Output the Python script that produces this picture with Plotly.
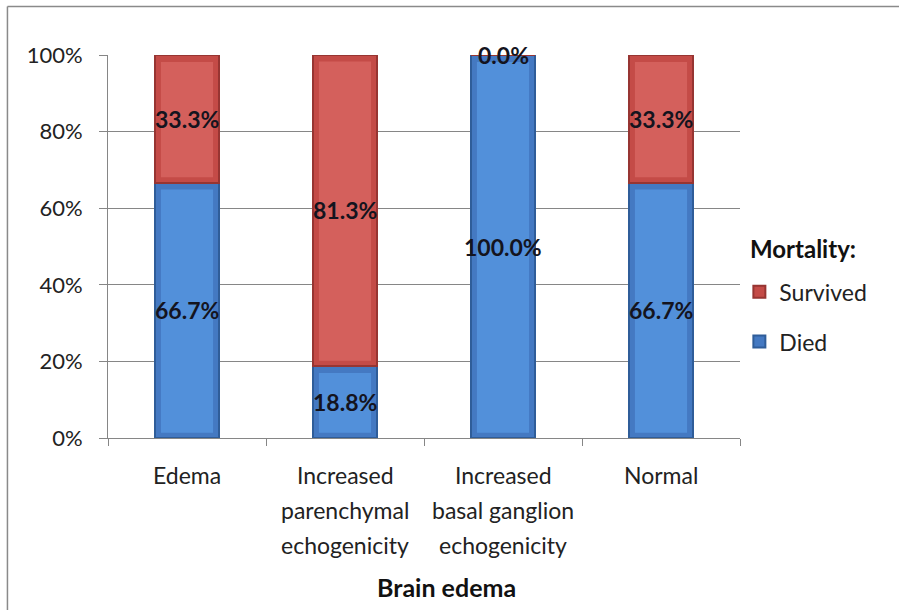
import plotly.graph_objects as go

# Brain edema findings vs. mortality (percent of each group)
categories = ["Edema", "Increased parenchymal echogenicity",
              "Increased basal ganglion echogenicity", "Normal"]
tick_labels = [["Edema"], ["Increased", "parenchymal", "echogenicity"],
               ["Increased", "basal ganglion", "echogenicity"], ["Normal"]]
died = [66.7, 18.8, 100.0, 66.7]
survived = [33.3, 81.3, 0.0, 33.3]
y_ticks = [0, 20, 40, 60, 80, 100]
y_tick_labels = ["0%", "20%", "40%", "60%", "80%", "100%"]

FONT = "Lato, 'Open Sans', sans-serif"
BAR_W = 0.4
# (edge, body, highlight) tones for the bevelled look
RED = ("#973532", "#C44B47", "#D4605C")
BLUE = ("#2F5D99", "#4479C2", "#5290DA")

fig = go.Figure()
fig.add_trace(go.Bar(
    x=categories, y=died, name="Died", legendgroup="died", legendrank=2,
    marker=dict(color=BLUE[1], line=dict(color=BLUE[0], width=2)),
    width=BAR_W, hoverinfo="skip"))
fig.add_trace(go.Bar(
    x=categories, y=survived, name="Survived", legendgroup="survived", legendrank=1,
    marker=dict(color=RED[1], line=dict(color=RED[0], width=2)),
    width=BAR_W, hoverinfo="skip"))

# Lighter inner panel gives each stacked segment a bevelled face
shapes = []
for i, (d, s) in enumerate(zip(died, survived)):
    for base, val, tones in ((0, d, BLUE), (d, s, RED)):
        if val <= 0:
            continue
        top = base + val
        shapes.append(dict(type="rect", xref="x", yref="y", layer="above",
                           x0=i - BAR_W / 2 + 0.035, x1=i + BAR_W / 2 - 0.035,
                           y0=base + 1.4, y1=top - 1.8,
                           fillcolor=tones[2], line=dict(width=0)))

# Frame around the chart (top and left edges are in view)
shapes.append(dict(type="line", xref="paper", yref="paper",
                   x0=-0.1591, x1=1.5, y0=1.1266, y1=1.1266,
                   line=dict(color="#8a8a8a", width=1.5)))
shapes.append(dict(type="line", xref="paper", yref="paper",
                   x0=-0.1591, x1=-0.1591, y0=-1.0, y1=1.1266,
                   line=dict(color="#8a8a8a", width=1.5)))

# Value labels centred on each stacked segment
annotations = []
for cat, d, s in zip(categories, died, survived):
    for base, val in ((0, d), (d, s)):
        annotations.append(dict(
            x=cat, y=base + val / 2, xref="x", yref="y",
            text=f"<b>{val:.1f}%</b>", showarrow=False,
            font=dict(family=FONT, size=23, color="#14141e")))

# Category labels, one line at a time for Excel-like line spacing
for cat, lines in zip(categories, tick_labels):
    for j, line in enumerate(lines):
        annotations.append(dict(
            x=cat, y=0, xref="x", yref="paper", yanchor="middle",
            yshift=-(37 + 35 * j), text=line, showarrow=False,
            font=dict(family=FONT, size=23, color="#222")))

annotations.append(dict(
    x=0.536, y=-0.389, xref="paper", yref="paper", yanchor="middle",
    text="<b>Brain edema</b>", showarrow=False,
    font=dict(family=FONT, size=25, color="#111")))

# Legend heading
annotations.append(dict(
    x=1.013, y=0.496, xref="paper", yref="paper", xanchor="left", yanchor="middle",
    text="<b>Mortality:</b>", showarrow=False,
    font=dict(family=FONT, size=24, color="#111")))

fig.update_layout(
    width=899, height=610,
    margin=dict(l=108, r=159, t=55, b=172),
    paper_bgcolor="white", plot_bgcolor="white",
    barmode="stack",
    font=dict(family=FONT, size=22, color="#222"),
    showlegend=True,
    legend=dict(
        x=0.999, y=0.438, xanchor="left", yanchor="top",
        traceorder="grouped", tracegroupgap=17,
        font=dict(family=FONT, size=23, color="#222"),
        itemwidth=30, bgcolor="rgba(0,0,0,0)"),
    annotations=annotations,
    shapes=shapes,
)

fig.update_xaxes(
    tickvals=categories, ticktext=["" for _ in categories],
    showline=True, linecolor="#868686", linewidth=1,
    ticks="outside", tickson="boundaries", ticklen=7, tickcolor="#868686",
    showgrid=False)
fig.update_yaxes(
    range=[0, 100], tickvals=y_ticks, ticktext=y_tick_labels,
    showline=True, linecolor="#868686", linewidth=1,
    ticks="outside", ticklen=8, tickcolor="#868686", ticklabelstandoff=12,
    showgrid=True, gridcolor="#868686", gridwidth=1,
    zeroline=False, tickfont=dict(family=FONT, size=22, color="#222"))

fig.write_html("out.html")
